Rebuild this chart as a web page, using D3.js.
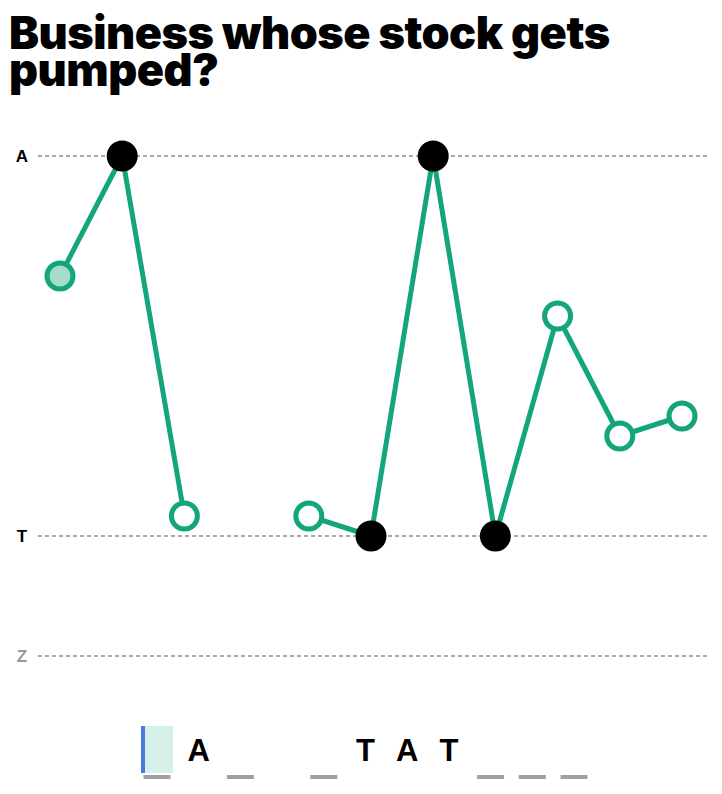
<!DOCTYPE html>
<meta charset="utf-8">
<style>
body { margin: 0; background: #fff; }
.title { font-family: Inter, "Liberation Sans", sans-serif; font-weight: 900; font-size: 45px; letter-spacing: -0.5px; fill: #000; }
.axisLabel { font-family: "Liberation Sans", Arial, sans-serif; font-weight: bold; font-size: 17px; }
.gridLine { stroke: #8c8c8c; stroke-width: 1.5; stroke-dasharray: 4 3; }
.track { fill: none; stroke: #13a57c; stroke-width: 5; stroke-linejoin: round; }
.slotLetter { font-family: "Liberation Sans", Arial, sans-serif; font-weight: bold; font-size: 31px; }
</style>
<svg width="722" height="794"></svg>
<script src="https://cdn.jsdelivr.net/npm/d3@7"></script>
<script>

const svg = d3.select("svg")

// title lines
const titleLines = ["Business whose stock gets", "pumped?"]

// answer letters, null marks the word break
const answer = ["G", "A", "S", null, "S", "T", "A", "T", "I", "O", "N"]
// state of each letter: revealed, open, selected
const state = ["selected", "revealed", "open", null, "open", "revealed", "revealed", "revealed", "open", "open", "open"]

// letters shown as y axis labels
const axisTicks = ["A", "T", "Z"]
const alphabet = "ABCDEFGHIJKLMNOPQRSTUVWXYZ".split("")

const x = d3.scalePoint()
    .domain(d3.range(answer.length))
    .range([60, 682])

const y = d3.scalePoint()
    .domain(alphabet)
    .range([156, 656])

// title, one text block with a tspan per line
svg.append("text")
    .attr("class", "title")
  .selectAll("tspan")
    .data(titleLines)
    .enter().append("tspan")
    .attr("x", 9)
    .attr("y", (d, i) => 49 + i * 37)
    .text(d => d)

// gridlines and axis letters
const grid = svg.append("g").selectAll("g")
    .data(axisTicks)
    .enter().append("g")
grid.append("line")
    .attr("class", "gridLine")
    .attr("x1", 38)
    .attr("x2", 708)
    .attr("y1", d => y(d))
    .attr("y2", d => y(d))
grid.append("text")
    .attr("class", "axisLabel")
    .attr("x", 22)
    .attr("y", d => y(d))
    .attr("dy", "0.36em")
    .attr("text-anchor", "middle")
    .attr("fill", d => d === "Z" ? "#999" : "#000")
    .text(d => d)

// the track, broken where words split
const line = d3.line()
    .defined(d => d.letter !== null)
    .x(d => x(d.i))
    .y(d => y(d.letter))

const points = answer.map((letter, i) => ({letter, i, state: state[i]}))

svg.append("path")
    .attr("class", "track")
    .attr("d", line(points))

svg.append("g").selectAll("circle")
    .data(points.filter(d => d.letter !== null))
    .enter().append("circle")
    .attr("cx", d => x(d.i))
    .attr("cy", d => y(d.letter))
    .attr("r", d => d.state === "revealed" ? 15.5 : 13)
    .attr("fill", d => d.state === "revealed" ? "#000" : d.state === "selected" ? "#a7dccb" : "#fff")
    .attr("stroke", d => d.state === "revealed" ? "none" : "#13a57c")
    .attr("stroke-width", 5)

// letter slots below
const slotX = d3.scalePoint()
    .domain(d3.range(answer.length))
    .range([157, 574])

const slots = svg.append("g").selectAll("g")
    .data(points.filter(d => d.letter !== null))
    .enter().append("g")
    .attr("transform", d => `translate(${slotX(d.i)},0)`)

slots.filter(d => d.state === "selected").append("rect")
    .attr("x", -16)
    .attr("y", 726)
    .attr("width", 32)
    .attr("height", 47)
    .attr("fill", "#d4f0e8")
slots.filter(d => d.state === "selected").append("rect")
    .attr("x", -16)
    .attr("y", 726)
    .attr("width", 4)
    .attr("height", 47)
    .attr("fill", "#4a7bdc")

slots.filter(d => d.state !== "revealed").append("rect")
    .attr("x", -13.5)
    .attr("y", 775)
    .attr("width", 27)
    .attr("height", 4)
    .attr("fill", "#a0a0a0")

slots.filter(d => d.state === "revealed").append("text")
    .attr("class", "slotLetter")
    .attr("y", 761)
    .attr("text-anchor", "middle")
    .text(d => d.letter)

</script>
